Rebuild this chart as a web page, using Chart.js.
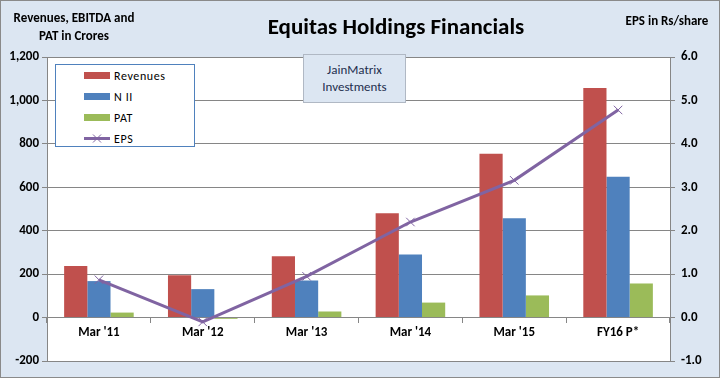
<!DOCTYPE html>
<html><head><meta charset="utf-8">
<script src="https://cdn.jsdelivr.net/npm/chart.js@4/dist/chart.umd.min.js"></script>
<style>
html,body{margin:0;padding:0;}
body{width:720px;height:378px;overflow:hidden;font-family:Carlito,'Liberation Sans Narrow','Liberation Sans',sans-serif;}
#wrap{position:relative;width:718px;height:376px;border:1px solid #8a8a8a;background:#dce6f2;}
#c{position:absolute;left:-1px;top:-1px;}
.t{position:absolute;font-weight:bold;color:#000;text-align:center;white-space:nowrap;}
#legend{position:absolute;left:54px;top:63px;width:140px;height:83px;background:#fff;border:1px solid #4f81bd;box-sizing:border-box;}
.li{position:absolute;left:28px;width:105px;height:14px;font-size:12px;letter-spacing:0.6px;line-height:14px;white-space:nowrap;}
.sw{position:absolute;left:0;top:3px;width:26px;height:7px;}
.li span{position:absolute;left:30px;top:0;white-space:nowrap;}
#wm{position:absolute;left:302px;top:53px;width:103px;height:49px;background:#dce6f2;border:1px solid #b0b8c4;box-sizing:border-box;text-align:center;font-size:13px;line-height:17px;padding-top:6px;color:#1f2f4f;}
</style></head>
<body>
<div id="wrap">
<canvas id="c" width="720" height="378"></canvas>
<div class="t" style="left:8px;top:8px;width:130px;font-size:13px;line-height:18px;">Revenues, EBITDA and<br>PAT in Crores</div>
<div class="t" style="left:240px;top:11px;width:310px;font-size:23px;">Equitas Holdings Financials</div>
<div class="t" style="left:616px;top:12px;width:100px;font-size:13px;">EPS in Rs/share</div>
<div id="legend"></div>
<div id="wm">JainMatrix<br>Investments</div>
</div>
<script>
const categories = ["Mar '11", "Mar '12", "Mar '13", "Mar '14", "Mar '15", "FY16 P*"];
const revenues = [238, 195, 282, 480, 754, 1057];
const nii = [168, 131, 171, 291, 457, 648];
const pat = [23, -6, 28, 69, 102, 157];
const eps = [0.87, -0.1, 0.95, 2.2, 3.16, 4.78];
const leftTicks = [-200, 0, 200, 400, 600, 800, 1000, 1200];
const rightTicks = [-1, 0, 1, 2, 3, 4, 5, 6];

const FONT = "Carlito, 'Liberation Sans Narrow', 'Liberation Sans', sans-serif";
const GRID = '#868686';

const whiteArea = {
  id: 'whiteArea',
  beforeDraw(chart) {
    const {ctx, chartArea: a} = chart;
    ctx.save();
    ctx.fillStyle = '#ffffff';
    ctx.fillRect(a.left, a.top, a.right - a.left, a.bottom - a.top);
    ctx.restore();
  }
};

const datasets = [
  {type:'line', label:'EPS', data:eps, yAxisID:'y1', borderColor:'#8064a2', backgroundColor:'#8064a2',
   borderWidth:3, pointStyle:'crossRot', pointRadius:6, pointBorderWidth:1, pointBorderColor:'#8064a2', order:0, tension:0},
  {type:'bar', label:'Revenues', data:revenues, yAxisID:'y', backgroundColor:'#c0504d', order:1},
  {type:'bar', label:'NII', data:nii, yAxisID:'y', backgroundColor:'#4f81bd', order:1},
  {type:'bar', label:'PAT', data:pat, yAxisID:'y', backgroundColor:'#9bbb59', order:1}
];

new Chart(document.getElementById('c'), {
  data: {labels: categories, datasets},
  plugins: [whiteArea],
  options: {
    responsive:false, animation:false,
    layout:{padding:{top:57, bottom:17, left:0, right:0}},
    datasets:{bar:{barPercentage:1, categoryPercentage:0.67}},
    plugins:{legend:{display:false}, tooltip:{enabled:false}},
    scales:{
      x:{position:{y:0}, offset:true,
         grid:{drawOnChartArea:false, drawTicks:true, tickLength:5, color:GRID, offset:true},
         border:{display:true, color:GRID},
         ticks:{color:'#000', font:{family:FONT, size:13, weight:'bold'}, padding:2, maxRotation:0}},
      y:{position:'left', min:-200, max:1200,
         afterBuildTicks(s){ s.ticks = leftTicks.map(v=>({value:v})); },
         afterFit(s){ s.width = 47; },
         grid:{color:GRID, tickLength:5},
         border:{display:true, color:GRID},
         ticks:{color:'#000', font:{family:FONT, size:13, weight:'bold'}, padding:3,
                callback:v=>v.toLocaleString('en-US')}},
      y1:{position:'right', min:-1, max:6,
         afterBuildTicks(s){ s.ticks = rightTicks.map(v=>({value:v})); },
         afterFit(s){ s.width = 50; },
         grid:{drawOnChartArea:false, color:GRID, tickLength:5},
         border:{display:true, color:GRID},
         ticks:{color:'#000', font:{family:FONT, size:13, weight:'bold'}, padding:6,
                callback:v=>v.toFixed(1)}}
    }
  }
});

// legend built from the datasets
const lg = document.getElementById('legend');
['Revenues','NII','PAT','EPS'].forEach((name,i)=>{
  const ds = datasets.find(d=>d.label===name);
  const d = document.createElement('div');
  d.className='li'; d.style.top=(4+i*21)+'px';
  const sw = document.createElement('div'); sw.className='sw';
  if (ds.type==='line') {
    sw.style.background='transparent';
    sw.innerHTML='<svg width="26" height="9" style="position:absolute;top:-1px"><line x1="0" y1="4.5" x2="26" y2="4.5" stroke="'+ds.borderColor+'" stroke-width="3"/><path d="M9 0.5L17 8.5M17 0.5L9 8.5" stroke="'+ds.borderColor+'" stroke-width="1"/></svg>';
  } else sw.style.background=ds.backgroundColor;
  const s = document.createElement('span'); s.textContent = name==='NII'?'N II':name;
  d.appendChild(sw); d.appendChild(s); lg.appendChild(d);
});
</script>
</body></html>
